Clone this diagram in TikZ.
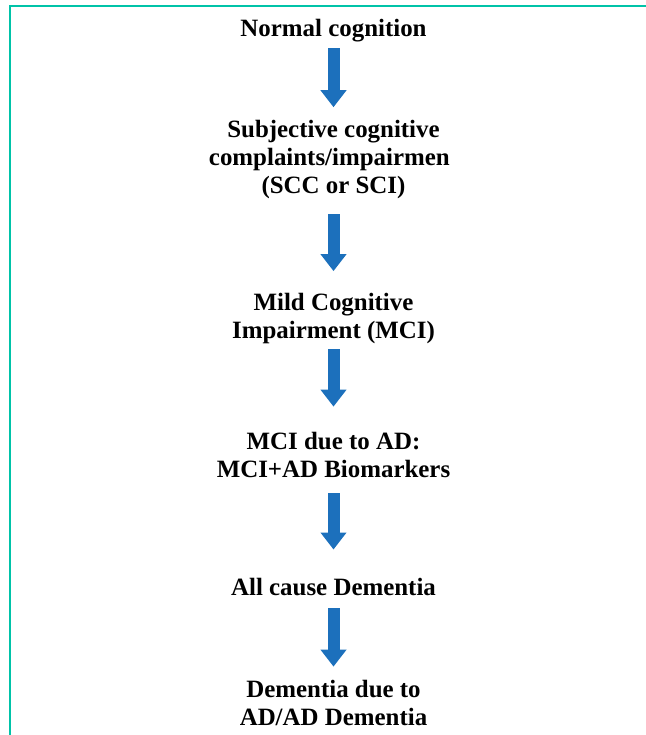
\documentclass[tikz,border=0pt]{standalone}
\usepackage{fontspec}
\setmainfont{Liberation Serif}
\usetikzlibrary{arrows.meta}
\definecolor{niceblue}{RGB}{28, 112, 188}
\definecolor{niceteal}{RGB}{0, 195, 168}

\begin{document}
\begin{tikzpicture}[x = 1bp, y = -1bp,
		stage/.style = {anchor = base, inner sep = 0pt, align = center, font = \bfseries\fontsize{25}{28}\selectfont},
		flow/.style = {draw = niceblue, line width = 12bp, -{Triangle[width = 25bp, length = 17bp]}}]
			\useasboundingbox (0,0) rectangle (646,735);
			\draw[niceteal, line width = 1.3bp] (10,735) |- (646,6);
			\node (nc) at (333.5,37) [stage] {Normal cognition};
			\node (scc) at (333.5,193) [stage] {Subjective cognitive\\complaints/impairmen\phantom{t}\\(SCC or SCI)};
			\node (mci) at (333.5,338) [stage] {Mild Cognitive\\Impairment (MCI)};
			\node (mciad) at (333.5,477) [stage] {MCI due to AD:\\MCI+AD Biomarkers};
			\node (acd) at (333.5,595) [stage] {All cause Dementia};
			\node (dad) at (333.5,725) [stage] {Dementia due to\\AD/AD Dementia};
			\draw[flow, shorten <= 5.6bp, shorten >= 12.5bp] (nc) -- (scc);
			\draw[flow, shorten <= 15.6bp, shorten >= 21.5bp] (scc) -- (mci);
			\draw[flow, shorten <= 5.6bp, shorten >= 25bp] (mci) -- (mciad);
			\draw[flow, shorten <= 15.7bp, shorten >= 28bp] (mciad) -- (acd);
			\draw[flow, shorten <= 12.7bp, shorten >= 13bp] (acd) -- (dad);
			\end{tikzpicture}
\end{document}
